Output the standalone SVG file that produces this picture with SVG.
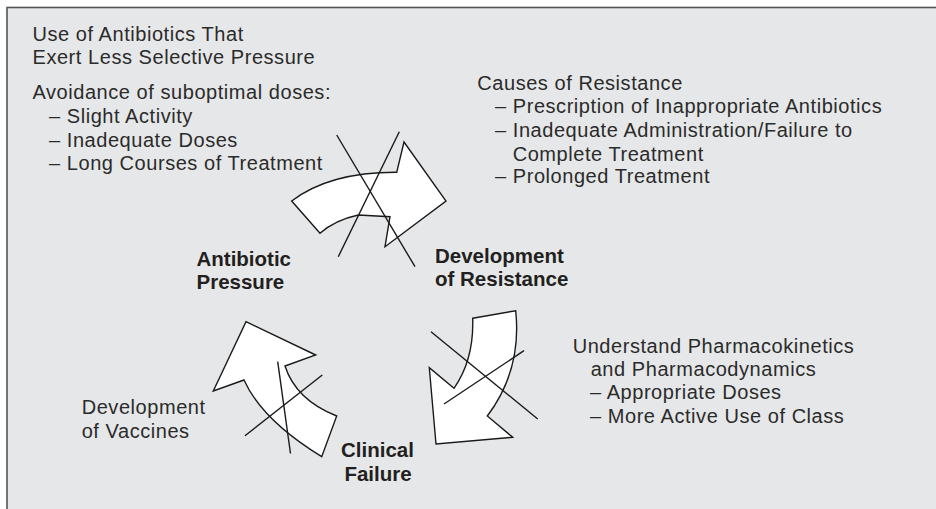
<svg xmlns="http://www.w3.org/2000/svg" width="936" height="509" viewBox="0 0 936 509">
  <style>
    .t { font-family: "Liberation Sans", Arial, sans-serif; font-size: 20px; letter-spacing: 0.55px; fill: #2b2b2b; }
    .b { font-family: "Liberation Sans", Arial, sans-serif; font-size: 20.5px; font-weight: bold; fill: #231f20; }
    .arrow { fill: #ffffff; stroke: #1a1a1a; stroke-width: 1.4; stroke-linejoin: miter; }
    .x { stroke: #1a1a1a; stroke-width: 1.4; fill: none; }
  </style>
  <rect x="0" y="0" width="936" height="509" fill="#ffffff"/>
  <rect x="7" y="7.5" width="940" height="510" fill="#e6e7e8" stroke="#555555" stroke-width="1.6"/>

  <g id="connectors">
    <g id="arrow-pressure-to-resistance">
      <path class="arrow" d="M291.7,201 Q330,172 396.7,172.3 L404,142 L446,201 L385,246.7 L390,216.7 L358.3,215 Q335,220 320,233.3 Z"/>
      <line class="x" x1="336.7" y1="135" x2="415" y2="266.7"/>
      <line class="x" x1="399.3" y1="131.7" x2="338.3" y2="256.7"/>
    </g>
    <g id="arrow-resistance-to-failure">
      <path class="arrow" d="M472.7,318.3 L515.7,310.7 Q522,370 487.3,416 L512.7,437.3 L436,444 L429.3,367.7 L454,388.3 Q474,360 472.7,318.3 Z"/>
      <line class="x" x1="431" y1="331.7" x2="537.7" y2="419"/>
      <line class="x" x1="524" y1="350.7" x2="444" y2="404"/>
    </g>
    <g id="arrow-failure-to-pressure">
      <path class="arrow" d="M246,321.7 L315.7,355 L285,366 Q296,400 336.7,416 L321.7,456.7 Q262,420 244,380 L213.3,391 Z"/>
      <line class="x" x1="277.7" y1="361.7" x2="290.5" y2="453.5"/>
      <line class="x" x1="322.3" y1="375" x2="245" y2="435.7"/>
    </g>
  </g>

  <g id="node-antibiotic-pressure">
    <text class="b" x="196.5" y="266">Antibiotic</text>
    <text class="b" x="196.5" y="289.3">Pressure</text>
  </g>
  <g id="node-development-of-resistance">
    <text class="b" x="435" y="263">Development</text>
    <text class="b" x="435" y="285.5">of Resistance</text>
  </g>
  <g id="node-clinical-failure">
    <text class="b" x="377.5" y="457.3" text-anchor="middle">Clinical</text>
    <text class="b" x="378" y="481" text-anchor="middle">Failure</text>
  </g>

  <g id="note-selective-pressure">
    <text class="t" x="32.5" y="40.7">Use of Antibiotics That</text>
    <text class="t" x="32.5" y="64.3">Exert Less Selective Pressure</text>
    <text class="t" x="32.5" y="99">Avoidance of suboptimal doses:</text>
    <text class="t" x="49" y="122.7">– Slight Activity</text>
    <text class="t" x="49" y="146.7">– Inadequate Doses</text>
    <text class="t" x="49" y="170">– Long Courses of Treatment</text>
  </g>
  <g id="note-causes-of-resistance">
    <text class="t" x="477.3" y="90">Causes of Resistance</text>
    <text class="t" x="495" y="113.3">– Prescription of Inappropriate Antibiotics</text>
    <text class="t" x="495" y="136.7">– Inadequate Administration/Failure to</text>
    <text class="t" x="512.7" y="160.7">Complete Treatment</text>
    <text class="t" x="495" y="183.3">– Prolonged Treatment</text>
  </g>
  <g id="note-pharmacokinetics">
    <text class="t" x="572.7" y="352.7">Understand Pharmacokinetics</text>
    <text class="t" x="590.7" y="376">and Pharmacodynamics</text>
    <text class="t" x="590" y="399.3">– Appropriate Doses</text>
    <text class="t" x="590" y="423.3">– More Active Use of Class</text>
  </g>
  <g id="note-vaccines">
    <text class="t" x="81.7" y="414.3">Development</text>
    <text class="t" x="81.7" y="437.7">of Vaccines</text>
  </g>
</svg>
